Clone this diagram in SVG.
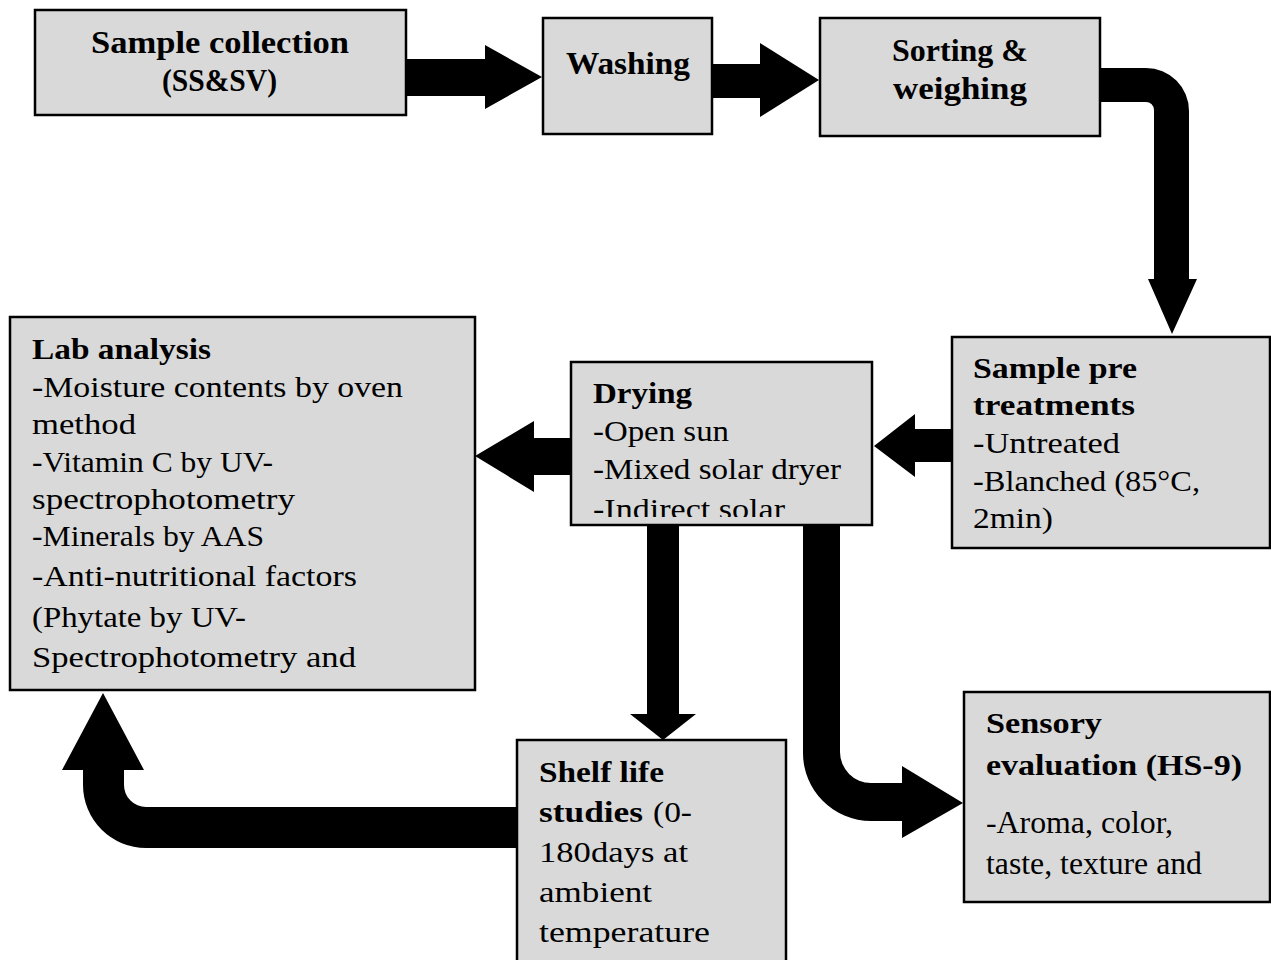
<svg xmlns="http://www.w3.org/2000/svg" width="1271" height="960" viewBox="0 0 1271 960">
<style>
.box{fill:#d9d9d9;stroke:#000;stroke-width:2.5}
.arr{fill:#000}
.t{font-family:"Liberation Serif","Times New Roman",serif;font-size:30px;fill:#000}
.b{font-weight:bold;font-size:30px}
.bt{font-weight:bold;font-size:31px}
.tn{font-family:"Liberation Serif","Times New Roman",serif;font-size:32px;fill:#000}
</style>
<defs>
<clipPath id="dryclip"><rect x="571" y="362" width="301" height="155"/></clipPath>
</defs>
<rect width="1271" height="960" fill="#fff"/>
<g id="connectors">
<polygon class="arr" points="406,59 485,59 485,45 542,77 485,109 485,96 406,96"/>
<polygon class="arr" points="712,64 760,64 760,43 819,80 760,117 760,98 712,98"/>
<path class="arr" d="M1100,68 H1146 A43,43 0 0 1 1189,111 V279 H1197 L1172,334 L1148,279 H1154 V110 A8,8 0 0 0 1146,102 H1100 Z"/>
<polygon class="arr" points="952,429 915,429 915,414 874,446 915,477 915,462 952,462"/>
<polygon class="arr" points="571,438 534,438 534,421 475,456 534,492 534,475 571,475"/>
<polygon class="arr" points="647,524 679,524 679,714 696,714 663,740 630,714 647,714"/>
<path class="arr" d="M803,524 V753 A68,68 0 0 0 871,821 H902 V838 L963,803 L902,766 V783 H871 A31,31 0 0 1 840,752 V524 Z"/>
<path class="arr" d="M517,807 H146 A22,22 0 0 1 124,785 V770 H144 L103,693 L62,770 H83 V785 A63,63 0 0 0 146,848 H517 Z"/>
</g>
<g id="sample-collection">
<rect class="box" x="35" y="10" width="371" height="105"/>
<text class="t bt" x="91" y="53" textLength="258" lengthAdjust="spacingAndGlyphs">Sample collection</text>
<text class="t bt" x="162" y="91" textLength="115" lengthAdjust="spacingAndGlyphs">(SS&amp;SV)</text>
</g>
<g id="washing">
<rect class="box" x="543" y="18" width="169" height="116"/>
<text class="t bt" x="566" y="74" textLength="124" lengthAdjust="spacingAndGlyphs">Washing</text>
</g>
<g id="sorting">
<rect class="box" x="820" y="18" width="280" height="118"/>
<text class="t bt" x="892" y="61" textLength="136" lengthAdjust="spacingAndGlyphs">Sorting &amp;</text>
<text class="t bt" x="893" y="99" textLength="134" lengthAdjust="spacingAndGlyphs">weighing</text>
</g>
<g id="pretreatments">
<rect class="box" x="952" y="337" width="318" height="211"/>
<text class="t b" x="973" y="378" textLength="164" lengthAdjust="spacingAndGlyphs">Sample pre</text>
<text class="t b" x="973" y="415" textLength="162" lengthAdjust="spacingAndGlyphs">treatments</text>
<text class="t" x="973" y="453" textLength="147" lengthAdjust="spacingAndGlyphs">-Untreated</text>
<text class="t" x="973" y="491" textLength="227" lengthAdjust="spacingAndGlyphs">-Blanched (85°C,</text>
<text class="t" x="973" y="528" textLength="80" lengthAdjust="spacingAndGlyphs">2min)</text>
</g>
<g id="drying">
<rect class="box" x="571" y="362" width="301" height="163"/>
<g clip-path="url(#dryclip)">
<text class="t b" x="593" y="403" textLength="99" lengthAdjust="spacingAndGlyphs">Drying</text>
<text class="t" x="593" y="441" textLength="136" lengthAdjust="spacingAndGlyphs">-Open sun</text>
<text class="t" x="593" y="479" textLength="248" lengthAdjust="spacingAndGlyphs">-Mixed solar dryer</text>
<text class="t" x="593" y="519" textLength="192" lengthAdjust="spacingAndGlyphs">-Indirect solar</text>
</g>
</g>
<g id="lab-analysis">
<rect class="box" x="10" y="317" width="465" height="373"/>
<text class="t b" x="32" y="359" textLength="179" lengthAdjust="spacingAndGlyphs">Lab analysis</text>
<text class="t" x="32" y="397" textLength="371" lengthAdjust="spacingAndGlyphs">-Moisture contents by oven</text>
<text class="t" x="32" y="434" textLength="104" lengthAdjust="spacingAndGlyphs">method</text>
<text class="t" x="32" y="472" textLength="241" lengthAdjust="spacingAndGlyphs">-Vitamin C by UV-</text>
<text class="t" x="32" y="509" textLength="263" lengthAdjust="spacingAndGlyphs">spectrophotometry</text>
<text class="t" x="32" y="546" textLength="232" lengthAdjust="spacingAndGlyphs">-Minerals by AAS</text>
<text class="t" x="32" y="586" textLength="325" lengthAdjust="spacingAndGlyphs">-Anti-nutritional factors</text>
<text class="t" x="32" y="627" textLength="214" lengthAdjust="spacingAndGlyphs">(Phytate by UV-</text>
<text class="t" x="32" y="667" textLength="324" lengthAdjust="spacingAndGlyphs">Spectrophotometry and</text>
</g>
<g id="shelf-life">
<rect class="box" x="517" y="740" width="269" height="240"/>
<text class="t b" x="539" y="782" textLength="125" lengthAdjust="spacingAndGlyphs">Shelf life</text>
<text class="t b" x="539" y="822" textLength="104" lengthAdjust="spacingAndGlyphs">studies</text>
<text class="t" x="653" y="822" textLength="39" lengthAdjust="spacingAndGlyphs">(0-</text>
<text class="t" x="539" y="862" textLength="149" lengthAdjust="spacingAndGlyphs">180days at</text>
<text class="t" x="539" y="902" textLength="113" lengthAdjust="spacingAndGlyphs">ambient</text>
<text class="t" x="539" y="942" textLength="171" lengthAdjust="spacingAndGlyphs">temperature</text>
</g>
<g id="sensory">
<rect class="box" x="964" y="692" width="306" height="210"/>
<text class="t b" x="986" y="733" textLength="116" lengthAdjust="spacingAndGlyphs">Sensory</text>
<text class="t b" x="986" y="775" textLength="256" lengthAdjust="spacingAndGlyphs">evaluation (HS-9)</text>
<text class="tn" x="986" y="833" textLength="187" lengthAdjust="spacingAndGlyphs">-Aroma, color,</text>
<text class="tn" x="986" y="874" textLength="216" lengthAdjust="spacingAndGlyphs">taste, texture and</text>
</g>
</svg>
